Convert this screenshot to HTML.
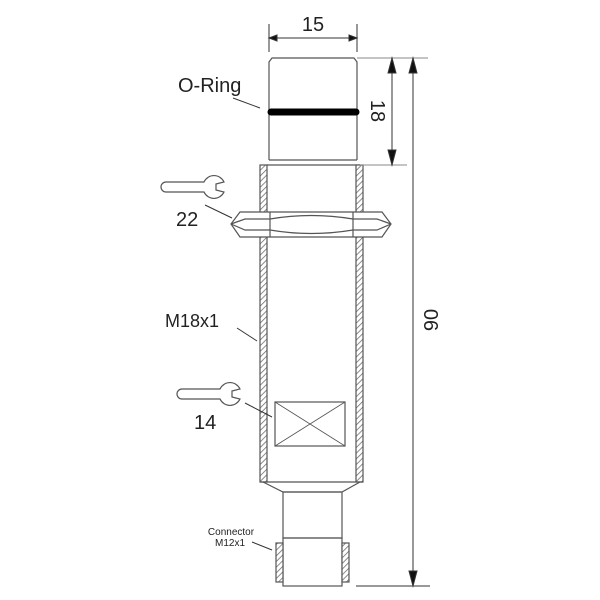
<!DOCTYPE html>
<html><head><style>
html,body{margin:0;padding:0;background:#fff;}
svg{display:block}
text{font-family:"Liberation Sans",Arial,sans-serif;fill:#222}
</style></head><body>
<svg width="600" height="600" viewBox="0 0 600 600" xmlns="http://www.w3.org/2000/svg">
<defs>
<pattern id="h" width="4" height="4" patternUnits="userSpaceOnUse" patternTransform="rotate(45)">
<rect width="4" height="4" fill="#fff"/><line x1="0" y1="0" x2="0" y2="4" stroke="#666" stroke-width="1.5"/>
</pattern>
</defs>
<g stroke="#555" stroke-width="1.2" fill="none">
<path d="M269,160 L269,62 L272,58 L354,58 L357,62 L357,160" fill="#fff"/>
<line x1="269" y1="160" x2="357" y2="160"/>
<line x1="266" y1="165" x2="360" y2="165"/>
<rect x="260" y="165" width="7" height="317" fill="url(#h)"/>
<rect x="356" y="165" width="7" height="317" fill="url(#h)"/>
<line x1="260" y1="482" x2="363" y2="482"/>
<path d="M263,482 L283,492 L342,492 L360,482"/>
<path d="M231,224 L240,212 L382,212 L391,224 L382,237 L240,237 Z" fill="#fff"/>
<line x1="270" y1="212" x2="270" y2="237"/>
<line x1="353" y1="212" x2="353" y2="237"/>
<path d="M231,224 L245,219 L270,219 M231,224 L245,230 L270,230 M391,224 L377,219 L353,219 M391,224 L377,230 L353,230"/>
<path d="M270,219 Q311,212 353,219 M270,230 Q311,237 353,230"/>
<rect x="275" y="402" width="70" height="44"/>
<path d="M275,402 L345,446 M345,402 L275,446" stroke-width="0.8"/>
<rect x="283" y="492" width="59" height="46"/>
<rect x="283" y="538" width="59" height="48"/>
<rect x="276" y="543" width="7" height="39" fill="url(#h)"/>
<rect x="342" y="543" width="7" height="39" fill="url(#h)"/>
<path d="M166,182 L204,182 A11,11 0 0 1 224,182 L216,184 L216,190 L224,192 A11,11 0 0 1 204,192 L166,192 A5,5 0 0 1 166,182 Z"/>
<path d="M182,389 L220,389 A11,11 0 0 1 240,389 L232,391 L232,397 L240,399 A11,11 0 0 1 220,399 L182,399 A5,5 0 0 1 182,389 Z"/>
</g>
<line x1="271" y1="112" x2="356" y2="112" stroke="#000" stroke-width="7" stroke-linecap="round"/>
<g stroke="#333" stroke-width="1" fill="none">
<line x1="269" y1="24" x2="269" y2="52"/><line x1="357" y1="24" x2="357" y2="52"/>
<line x1="272" y1="38" x2="354" y2="38"/>
<path d="M269,38 l8,-3 v6 z M357,38 l-8,-3 v6 z" fill="#111"/>
<line x1="357" y1="58" x2="428" y2="58" stroke="#888"/>
<line x1="360" y1="165" x2="407" y2="165" stroke="#888"/>
<line x1="356" y1="586" x2="430" y2="586"/>
<line x1="392" y1="58" x2="392" y2="165"/>
<path d="M392,58 l-4,15 h8 z M392,165 l-4,-15 h8 z" fill="#111"/>
<line x1="413" y1="58" x2="413" y2="586"/>
<path d="M413,58 l-4,15 h8 z M413,586 l-4,-15 h8 z" fill="#111"/>
<line x1="233" y1="98" x2="260" y2="108"/>
<line x1="205" y1="205" x2="232" y2="218"/>
<line x1="237" y1="328" x2="257" y2="341"/>
<line x1="245" y1="403" x2="272" y2="417"/>
<line x1="252" y1="542" x2="272" y2="550"/>
</g>
<text x="313" y="31" font-size="20" text-anchor="middle">15</text>
<text x="178" y="92" font-size="20">O-Ring</text>
<text x="176" y="226" font-size="20">22</text>
<text x="165" y="327" font-size="18">M18x1</text>
<text x="194" y="429" font-size="20">14</text>
<text x="231" y="535" font-size="10" text-anchor="middle">Connector</text>
<text x="230" y="546" font-size="10" text-anchor="middle">M12x1</text>
<text transform="translate(371,111) rotate(90)" font-size="20" text-anchor="middle">18</text>
<text transform="translate(438,320) rotate(-90)" font-size="20" text-anchor="middle">90</text>
</svg>
</body></html>
